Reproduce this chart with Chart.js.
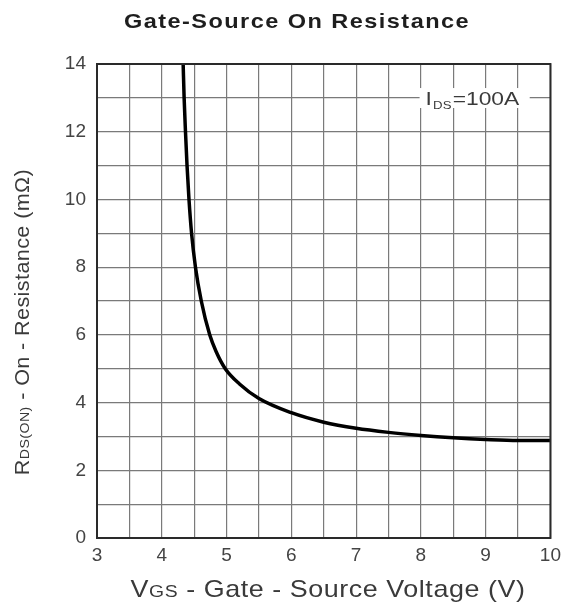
<!DOCTYPE html>
<html>
<head>
<meta charset="utf-8">
<script src="https://cdn.jsdelivr.net/npm/chart.js@4.4.1/dist/chart.umd.min.js"></script>
<style>
    html, body { margin: 0; padding: 0; background: #fff; }
    #wrap { width: 567px; height: 610px; }
</style>
</head>
<body>
<div id="wrap"><canvas id="rds-chart"></canvas></div>
<script>
"use strict";

// kurvan R_DS(on) mot V_GS vid I_DS = 100 A
const vgs = [4.33, 4.345, 4.366, 4.39, 4.42, 4.46, 4.52, 4.61, 4.74, 4.84, 4.98, 5.2, 5.5, 6.0, 6.5, 7.0, 7.5, 8.0, 8.5, 9.0, 9.5, 10.0];
const rdsOn = [14, 13, 12, 11, 10, 9, 8, 7, 6, 5.5, 5, 4.55, 4.12, 3.7, 3.42, 3.24, 3.12, 3.03, 2.96, 2.91, 2.88, 2.88];

// axlarnas gränser och etiketter
const xTicks = [3, 4, 5, 6, 7, 8, 9, 10];
const yTicks = [0, 2, 4, 6, 8, 10, 12, 14];

const titleText = "Gate-Source On Resistance";
const xTitleParts = [["V", 1], ["GS", 0.72], [" - Gate - Source Voltage (V)", 1]];
const yTitleParts = [["R", 1], ["DS(ON)", 0.66], [" - On - Resistance (m\u03A9)", 1]];
const noteParts = ["I", "DS", "=100A"];

const FONT = '"Liberation Sans", Arial, sans-serif';
const TEXT = "#3a3a3a";

// ritar text i bitar med olika storlek längs samma baslinje, centrerat
function drawParts(ctx, parts, size, weight, spacing) {
    ctx.letterSpacing = spacing + "px";
    let total = 0;
    const widths = parts.map(p => {
        ctx.font = weight + " " + (size * p[1]) + "px " + FONT;
        const w = ctx.measureText(p[0]).width;
        total += w;
        return w;
    });
    let x = -total / 2;
    parts.forEach((p, i) => {
        ctx.font = weight + " " + (size * p[1]) + "px " + FONT;
        ctx.fillText(p[0], x, 0);
        x += widths[i];
    });
}

const textPlugin = {
    id: "texts",
    afterDatasetsDraw(chart) {
        const ctx = chart.ctx;
        const xs = chart.scales.x;
        const ys = chart.scales.y;

        // vit ruta med strömmen uppe till höger
        const left = xs.getPixelForValue(7.98);
        const right = xs.getPixelForValue(9.68);
        const top = ys.getPixelForValue(13.29);
        const bottom = ys.getPixelForValue(12.7);
        ctx.save();
        ctx.fillStyle = "#fff";
        ctx.fillRect(left, top, right - left, bottom - top);
        ctx.fillStyle = TEXT;
        ctx.textBaseline = "alphabetic";
        const base = ys.getPixelForValue(12.8);
        ctx.translate(left + 6, base);
        ctx.scale(1.2, 1);
        let x = 0;
        ctx.font = "19px " + FONT;
        ctx.fillText(noteParts[0], x, 0);
        x += ctx.measureText(noteParts[0]).width + 1;
        ctx.font = "11px " + FONT;
        ctx.fillText(noteParts[1], x, 4);
        x += ctx.measureText(noteParts[1]).width + 1;
        ctx.font = "19px " + FONT;
        ctx.fillText(noteParts[2], x, 0);
        ctx.restore();
    },
    afterDraw(chart) {
        const ctx = chart.ctx;
        const area = chart.chartArea;
        ctx.save();

        // ram runt diagramytan
        ctx.strokeStyle = "#2a2a2a";
        ctx.lineWidth = 2;
        ctx.strokeRect(area.left, area.top, area.right - area.left, area.bottom - area.top);

        ctx.textAlign = "left";
        ctx.textBaseline = "alphabetic";

        // rubrik
        ctx.fillStyle = "#1e1e1e";
        ctx.save();
        ctx.translate(297, 28);
        ctx.scale(1.12, 1);
        drawParts(ctx, [[titleText, 1]], 21, "bold", 1.3);
        ctx.restore();

        // x-axelns titel
        ctx.fillStyle = TEXT;
        ctx.save();
        ctx.translate(328, 597);
        ctx.scale(1.12, 1);
        drawParts(ctx, xTitleParts, 24, "normal", 0.5);
        ctx.restore();

        // y-axelns titel
        ctx.save();
        ctx.translate(29, 322);
        ctx.rotate(-Math.PI / 2);
        ctx.scale(1.05, 1);
        drawParts(ctx, yTitleParts, 20.5, "normal", 0.4);
        ctx.restore();

        ctx.restore();
    }
};

const chartEl = document.getElementById("rds-chart");

new Chart(chartEl, {
    type: "scatter",
    data: {
        datasets: [{
            data: vgs.map((v, i) => ({ x: v, y: rdsOn[i] })),
            showLine: true,
            borderColor: "#000",
            borderWidth: 3.5,
            pointRadius: 0,
            cubicInterpolationMode: "monotone"
        }]
    },
    options: {
        responsive: true,
        maintainAspectRatio: false,
        animation: false,
        layout: { padding: { left: 0, right: 16, top: 64, bottom: 0 } },
        plugins: {
            legend: { display: false },
            tooltip: { enabled: false }
        },
        scales: {
            x: {
                type: "linear",
                min: xTicks[0],
                max: xTicks[xTicks.length - 1],
                afterFit: scale => { scale.height = 72; },
                border: { display: false },
                grid: { color: "#7a7a7a", lineWidth: 1.2, drawTicks: false },
                ticks: {
                    stepSize: 0.5,
                    autoSkip: false,
                    maxRotation: 0,
                    padding: 6,
                    color: "#444",
                    font: { family: FONT, size: 19 },
                    callback: v => xTicks.includes(v) ? String(v) : ""
                }
            },
            y: {
                min: yTicks[0],
                max: yTicks[yTicks.length - 1],
                afterFit: scale => { scale.width = 97; },
                border: { display: false },
                grid: { color: "#7a7a7a", lineWidth: 1.2, drawTicks: false },
                ticks: {
                    stepSize: 1,
                    autoSkip: false,
                    padding: 11,
                    color: "#444",
                    font: { family: FONT, size: 19 },
                    callback: v => yTicks.includes(v) ? String(v) : ""
                }
            }
        }
    },
    plugins: [textPlugin]
});
</script>
</body>
</html>
